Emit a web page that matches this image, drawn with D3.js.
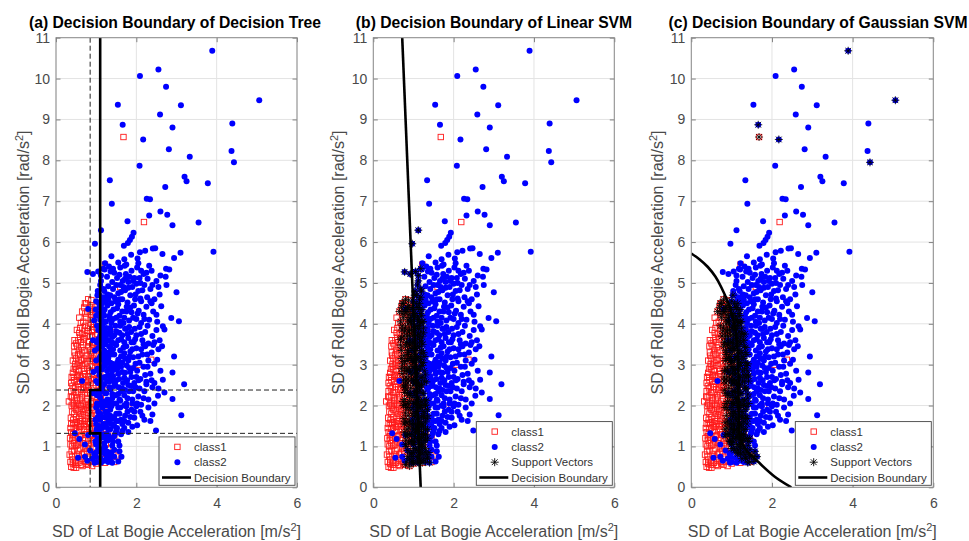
<!DOCTYPE html>
<html>
<head>
<meta charset="utf-8">
<script src="https://cdn.jsdelivr.net/npm/d3@7"></script>
<style>
  body { margin: 0; background: #fff; }
  svg { font-family: "Liberation Sans", Arial, sans-serif; }
</style>
</head>
<body>
<svg id="chart" width="969" height="541"></svg>
<script>
// ---- data ----
var panelTitles = ["(a) Decision Boundary of Decision Tree", "(b) Decision Boundary of Linear SVM", "(c) Decision Boundary of Gaussian SVM"];
var xTickVals = [0, 2, 4, 6];
var yTickVals = [0, 1, 2, 3, 4, 5, 6, 7, 8, 9, 10, 11];
var legendNames = ["class1", "class2", "Support Vectors", "Decision Boundary"];

// class1 (red squares)
var class1 = [
  [1.68,8.57],[2.19,6.49],[1.22,5.45],[2.37,3.12],[1.8,1.95],[2.05,3.0],[1.5,2.7],[1.4,3.8],[1.6,4.9],[1.45,1.2],
  [1.3,1.3],[1.55,0.75],[1.39,1.19],[1.18,1.16],
  [0.8,4.6],[0.72,4.5],[0.85,4.4],[0.78,4.3],[0.68,4.05],[0.75,4.15],[0.88,4.22],[0.62,4.02],[0.92,4.05],
  [0.6,3.9],[0.66,3.75],[0.72,3.95],[0.55,3.6],[0.62,3.55],[0.7,3.65],[0.78,3.82],[0.85,3.7],[0.5,3.52],[0.9,3.85],[0.58,3.78],[0.82,3.55],
  [0.42,3.1],[0.46,3.3],[0.5,3.15],[0.53,3.45],[0.57,3.05],[0.6,3.25],[0.63,3.42],[0.66,3.12],[0.7,3.35],[0.73,3.02],
  [0.76,3.22],[0.8,3.45],[0.84,3.1],[0.88,3.3],[0.92,3.15],[0.48,3.02],[0.55,3.25],[0.68,3.48],[0.78,3.08],[0.45,3.45],
  [0.38,2.55],[0.42,2.8],[0.45,2.62],[0.48,2.95],[0.52,2.7],[0.55,2.52],[0.58,2.85],[0.62,2.68],[0.65,2.98],[0.68,2.55],
  [0.72,2.78],[0.75,2.62],[0.78,2.92],[0.82,2.7],[0.86,2.55],[0.9,2.85],[0.44,2.7],[0.6,2.58],[0.7,2.9],[0.8,2.5],[0.5,2.88],[0.95,2.65],
  [0.32,2.1],[0.38,2.35],[0.42,2.05],[0.45,2.25],[0.48,2.45],[0.52,2.12],[0.55,2.32],[0.58,2.02],[0.62,2.4],[0.65,2.2],
  [0.68,2.05],[0.72,2.3],[0.75,2.48],[0.78,2.15],[0.82,2.38],[0.86,2.05],[0.9,2.25],[0.44,2.42],[0.6,2.15],[0.7,2.45],[0.4,2.2],[0.8,2.02],
  [0.38,1.55],[0.4,1.85],[0.43,1.65],[0.46,1.95],[0.5,1.72],[0.53,1.52],[0.56,1.88],[0.6,1.62],[0.63,1.98],[0.66,1.75],
  [0.7,1.55],[0.73,1.9],[0.76,1.68],[0.8,1.82],[0.84,1.58],[0.88,1.95],[0.45,1.8],[0.58,1.7],[0.68,1.85],[0.52,1.6],
  [0.36,1.05],[0.38,1.35],[0.41,1.15],[0.44,1.45],[0.47,1.22],[0.5,1.02],[0.53,1.38],[0.56,1.18],[0.6,1.48],[0.63,1.28],
  [0.66,1.08],[0.7,1.4],[0.73,1.2],[0.77,1.35],[0.8,1.05],[0.84,1.25],[0.88,1.45],[0.95,1.15],[1.05,1.35],[1.12,1.42],
  [0.38,0.5],[0.4,0.75],[0.42,0.58],[0.45,0.9],[0.48,0.65],[0.5,0.48],[0.53,0.8],[0.56,0.6],[0.6,0.95],[0.63,0.7],
  [0.66,0.52],[0.7,0.85],[0.73,0.62],[0.76,0.95],[0.8,0.55],[0.85,0.75],[0.9,0.52],[1.0,0.58],[1.1,0.62],[1.22,0.6],
  [1.35,0.72],[1.45,0.62],[1.5,0.78],[0.44,0.48],
  [0.78,0.7],[0.82,1.0],[0.86,1.3],[0.9,1.62],[0.93,1.9],[0.96,2.2],[0.99,2.5],[1.02,2.8],[0.97,3.1],[0.94,3.4],
  [0.9,3.7],[0.87,4.0],[0.84,4.3],[0.92,0.85],[0.95,1.12],[0.98,1.45],[1.02,1.75],[1.05,2.05],[1.08,2.35],[1.06,2.65],
  [1.04,2.95],[1.0,3.25],[0.98,3.55],[0.95,3.85],[0.92,4.15],[0.88,4.45],[0.8,1.6],[0.83,1.95],[0.85,2.3],[0.87,2.65],
  [0.89,2.95],[0.86,3.25],[0.83,3.55],[0.8,3.9],[1.08,0.75],[1.12,1.05],[1.15,1.6],[1.18,1.95],[1.12,2.15],[1.1,2.9],
  [1.07,3.35],[1.03,3.75],[0.99,4.25],[1.2,2.5],[1.25,1.3],[1.3,0.95],
  [0.74,0.58],[0.77,0.88],[0.81,1.15],[0.84,1.42],[0.87,1.75],[0.9,2.1],[0.93,2.42],[0.96,2.75],[0.99,3.05],[1.02,3.4],
  [0.98,3.72],[0.95,4.0],[0.91,4.35],[0.88,4.58],[0.96,0.65],[0.99,0.95],[1.02,1.25],[1.05,1.55],[1.08,1.85],[1.11,2.18],
  [1.14,2.48],[1.1,2.78],[1.07,3.08],[1.04,3.52],[1.01,3.9],[0.97,4.4],[0.72,1.62],[0.75,2.0],[0.78,2.32],[0.81,2.6],
  [0.84,2.85],[0.87,3.15],[0.9,3.5],[0.76,3.7],[0.73,4.25],[0.83,0.62],[0.88,1.08],[0.91,1.3],[0.94,1.55],[0.97,1.8],
  [1.0,2.08],[1.03,2.35],[1.06,2.55],[1.01,2.62],[0.98,2.95],[0.95,3.2],[0.92,3.48],[0.89,3.8],[0.86,4.1],[1.16,0.82],
  [1.2,1.38],[1.24,1.05],
  [0.36,0.62],[0.39,0.88],[0.41,1.25],[0.43,1.58],[0.46,2.0],[0.49,2.32],[0.52,2.6],[0.54,2.98],[0.57,3.35],[0.6,3.68],
  [0.63,0.55],[0.65,0.8],[0.67,1.15],[0.69,1.5],[0.71,1.78],[0.74,2.1],[0.4,1.0],[0.43,1.3],[0.47,1.55],[0.5,1.9],
  [0.53,2.2],[0.56,2.45],[0.59,2.75],[0.62,3.1],[0.65,3.3],[0.68,3.62],[0.71,3.85],[0.37,1.7],[0.39,2.0],[0.41,2.48],
  [0.44,2.9],[0.47,3.22],[0.5,0.6],[0.55,1.05],[0.58,1.35],[0.61,1.8],[0.64,2.25],[0.67,2.7],[0.7,3.15],[0.48,0.55],
  [0.34,0.8],[0.35,1.2],[0.36,1.45],[0.37,2.22],[0.39,2.7],[0.42,0.68],[0.45,1.08],[0.49,1.45],[0.51,2.05],[0.54,2.75],
  [0.57,0.75],[0.59,1.12],[0.62,1.55],[0.64,1.92],[0.67,2.38],[0.69,2.85],[0.72,0.95],[0.74,1.3],[0.77,1.55],[0.79,2.45],
  [0.82,2.85],[0.85,3.35],[0.46,3.6],[0.52,3.85],[0.58,4.15],[0.65,4.3],[0.7,4.4],[0.75,4.5],[0.55,0.9],[0.6,1.25]
];

// class2 (blue dots)
var class2 = [
  [3.89,10.68],[5.06,9.47],[2.55,10.22],[2.09,10.06],[2.74,9.8],[1.54,9.36],[3.11,9.35],[2.59,9.12],[1.66,8.87],[4.39,8.9],
  [2.9,8.8],[2.17,8.51],[2.81,8.27],[4.37,8.23],[3.33,8.09],[4.43,7.95],[2.08,7.87],[3.2,7.6],[3.25,7.49],[3.78,7.44],
  [1.34,7.51],[2.72,7.35],[2.26,7.06],[2.34,7.05],[1.39,6.94],[2.6,6.75],[2.77,6.67],[2.32,6.65],[1.78,6.51],[3.55,6.48],
  [2.9,6.41],[1.12,6.29],[1.93,6.23],[1.89,6.13],[1.84,6.05],[1.79,5.98],[1.69,5.91],[0.97,5.96],[3.92,5.76],[2.22,5.79],
  [2.09,5.75],[2.41,5.84],[2.47,5.85],[3.1,5.74],[2.65,5.71],[1.38,5.65],[1.87,5.69],[1.7,5.58],[2.94,5.61],[2.03,5.6],
  [2.05,5.48],[1.71,5.42],[2.74,5.35],[1.21,5.33],
  [1.05,5.28],[1.12,5.05],[1.18,5.35],[1.27,5.15],[1.32,5.4],[1.4,5.02],[1.45,5.25],[1.52,5.12],[1.6,5.38],[1.66,5.05],
  [1.74,5.22],[1.8,5.02],[1.88,5.3],[1.95,5.12],[2.02,5.38],[2.1,5.0],[2.18,5.22],[2.28,5.1],[2.38,5.3],[2.5,5.05],
  [2.6,5.18],[2.82,5.33],[2.73,5.15],[1.22,5.48],[1.55,5.5],[0.78,5.27],[0.92,5.22],
  [1.1,4.95],[1.15,4.6],[1.2,4.8],[1.25,4.55],[1.3,4.92],[1.35,4.7],[1.42,4.85],[1.48,4.55],[1.55,4.75],[1.6,4.95],
  [1.65,4.6],[1.72,4.82],[1.78,4.52],[1.85,4.7],[1.9,4.9],[1.97,4.6],[2.05,4.8],[2.12,4.55],[2.2,4.95],[2.27,4.65],
  [2.35,4.85],[2.45,4.6],[2.55,4.9],[2.62,4.43],[3.0,4.77],[2.75,4.95],[1.08,4.7],[1.38,4.5],[2.0,4.98],
  [1.1,4.1],[1.12,4.4],[1.18,4.25],[1.22,4.05],[1.28,4.45],[1.33,4.2],[1.38,4.02],[1.43,4.35],[1.5,4.15],[1.55,4.48],
  [1.6,4.05],[1.65,4.3],[1.7,4.15],[1.76,4.42],[1.82,4.08],[1.88,4.28],[1.94,4.45],[2.0,4.12],[2.06,4.32],[2.12,4.02],
  [2.18,4.22],[2.25,4.42],[2.32,4.1],[2.42,4.3],[2.52,4.05],[2.87,4.14],[3.06,4.06],[0.8,4.36],[0.95,4.08],[1.0,4.2],
  [1.02,3.55],[1.05,3.85],[1.1,3.7],[1.15,3.95],[1.2,3.55],[1.25,3.78],[1.3,3.6],[1.35,3.9],[1.4,3.68],[1.45,3.52],
  [1.5,3.82],[1.55,3.6],[1.6,3.95],[1.65,3.72],[1.7,3.55],[1.75,3.88],[1.8,3.65],[1.87,3.8],[1.93,3.55],[2.0,3.72],
  [2.08,3.92],[2.15,3.6],[2.22,3.8],[2.3,3.52],[2.4,3.7],[2.66,3.94],[2.7,3.86],[2.64,3.45],[2.5,3.85],[0.92,3.6],
  [1.0,3.1],[1.05,3.4],[1.1,3.2],[1.15,3.45],[1.2,3.05],[1.25,3.3],[1.3,3.15],[1.35,3.42],[1.4,3.02],[1.45,3.25],
  [1.5,3.48],[1.55,3.12],[1.6,3.35],[1.65,3.05],[1.7,3.28],[1.75,3.45],[1.8,3.1],[1.85,3.32],[1.92,3.18],[2.0,3.4],
  [2.08,3.05],[2.15,3.25],[2.22,3.45],[2.3,3.1],[2.38,3.3],[2.45,3.02],[2.94,3.2],[2.55,3.38],[0.97,3.35],
  [1.0,2.6],[1.03,2.9],[1.08,2.75],[1.12,2.55],[1.17,2.95],[1.22,2.7],[1.27,2.85],[1.32,2.58],[1.37,2.98],[1.42,2.72],
  [1.47,2.52],[1.52,2.88],[1.57,2.65],[1.62,2.95],[1.67,2.55],[1.72,2.8],[1.77,2.62],[1.82,2.92],[1.88,2.7],[1.95,2.55],
  [2.02,2.85],[2.1,2.65],[2.18,2.95],[2.25,2.58],[2.35,2.78],[2.45,2.55],[2.9,2.81],[3.19,2.52],[2.66,2.63],[0.93,2.82],[0.65,2.6],
  [1.02,2.05],[1.06,2.35],[1.1,2.2],[1.15,2.45],[1.2,2.1],[1.25,2.3],[1.3,2.02],[1.35,2.4],[1.4,2.18],[1.45,2.48],
  [1.5,2.05],[1.55,2.28],[1.6,2.12],[1.65,2.42],[1.7,2.25],[1.75,2.05],[1.82,2.35],[1.9,2.15],[1.98,2.45],[2.05,2.22],
  [2.12,2.02],[2.2,2.35],[2.3,2.15],[2.4,2.45],[2.54,2.24],[2.7,2.32],[2.9,2.16],[2.45,2.05],[0.93,2.3],
  [1.0,1.55],[1.05,1.85],[1.1,1.65],[1.15,1.95],[1.2,1.52],[1.25,1.75],[1.3,1.6],[1.35,1.9],[1.4,1.68],[1.45,1.5],
  [1.5,1.8],[1.55,1.62],[1.6,1.95],[1.65,1.55],[1.72,1.75],[1.8,1.58],[1.88,1.9],[1.95,1.7],[2.02,1.52],[2.1,1.85],
  [2.2,1.65],[2.3,1.95],[2.4,1.78],[3.12,1.76],[2.49,1.39],[1.75,1.98],[2.0,1.98],
  [0.47,1.32],[0.58,1.18],[0.72,1.05],[0.8,1.28],
  [1.0,1.05],[1.05,1.35],[1.1,1.2],[1.15,1.45],[1.2,1.08],[1.25,1.3],[1.3,1.15],[1.35,1.42],[1.4,1.02],[1.45,1.25],
  [1.5,1.38],[1.55,1.12],[1.62,1.3],[1.7,1.45],[1.8,1.35],[1.9,1.48],[1.25,1.48],
  [0.72,0.75],[0.78,0.65],[0.85,0.9],[0.9,0.7],[0.95,0.82],[1.0,0.62],[1.05,0.95],[1.1,0.72],[1.15,0.85],[1.2,0.65],
  [1.28,0.87],[1.35,0.7],[1.45,0.92],[1.55,0.63],[1.63,0.75],[0.55,0.72],[1.22,0.98],[1.4,0.6],
  [0.98,0.75],[1.03,1.1],[1.07,1.4],[1.12,1.7],[1.17,2.0],[1.22,2.3],[1.27,2.6],[1.32,2.9],[1.28,3.2],[1.23,3.5],
  [1.18,3.8],[1.13,4.1],[1.08,4.4],[1.03,4.7],[1.08,0.9],[1.13,1.25],[1.18,1.55],[1.23,1.85],[1.28,2.15],[1.33,2.45],
  [1.3,2.75],[1.25,3.05],[1.2,3.35],[1.15,3.65],[1.1,3.95],[1.05,4.25],[1.0,4.55],[0.96,1.3],[0.98,1.65],[1.0,1.95],
  [1.02,2.25],[1.04,2.55],[1.06,2.85],[1.08,3.15],[1.1,3.45],[1.12,3.75],[1.14,4.05],[1.16,4.35],[1.18,4.65],[1.2,1.0],
  [1.26,1.7],[1.3,2.0],[1.34,3.3],[1.3,3.6],[1.25,3.9],[1.2,4.2],[1.15,4.5],[1.35,1.2],[1.33,0.8],[1.25,0.7],
  [0.96,0.6],[1.0,0.85],[1.04,1.2],[1.07,1.5],[1.1,1.8],[1.13,2.08],[1.16,2.38],[1.19,2.68],[1.22,2.98],[1.19,3.28],
  [1.16,3.58],[1.13,3.88],[1.1,4.18],[1.07,4.5],[1.04,4.8],[1.12,0.6],[1.16,0.92],[1.2,1.22],[1.24,1.55],[1.28,1.85],
  [1.32,2.12],[1.36,2.42],[1.38,2.75],[1.35,3.05],[1.32,3.45],[1.28,3.75],[1.24,4.05],[1.21,4.35],[1.18,4.85],[0.98,1.12],
  [1.01,1.42],[1.04,1.72],[1.06,2.02],[1.09,2.32],[1.11,2.62],[1.14,2.88],[1.17,3.18],[1.05,3.62],[1.02,3.95],[0.99,4.35],
  [1.27,1.15],[1.3,1.42],[1.34,1.68],[1.38,1.98],[1.4,2.28],[1.42,2.6],[1.39,3.55],[1.36,3.82],[1.33,4.12],[1.3,4.6],
  [1.38,0.85],[1.3,0.62],
  [1.42,5.35],[1.58,5.2],[1.75,5.45],[1.92,5.05],[2.12,5.3],[2.32,5.42],[1.28,4.72],[1.45,4.65],[1.62,4.78],[1.8,4.88],
  [1.98,4.72],[2.15,4.82],[2.35,4.55],[1.36,4.28],[1.52,4.38],[1.68,4.02],[1.85,4.4],[2.03,4.25],[2.2,4.12],[2.38,4.5],
  [1.33,3.75],[1.48,3.95],[1.62,3.62],[1.78,3.75],[1.96,3.88],[2.12,3.75],[2.28,3.95],[2.45,3.55],[1.38,3.25],[1.52,3.05],
  [1.68,3.42],[1.83,3.2],[1.98,3.02],[2.12,3.38],[2.27,3.25],[2.42,3.48],[1.35,2.7],[1.5,2.62],[1.65,2.82],[1.8,2.5],
  [1.92,2.92],[2.06,2.62],[2.22,2.75],[2.38,2.62],[1.48,2.25],[1.62,2.35],[1.78,2.18],[1.92,2.35],[2.08,2.42],[2.25,2.52],
  [1.45,1.72],[1.58,1.8],[1.7,1.62],[1.85,1.72],[2.15,1.75],[1.38,1.55],[1.52,1.45],[1.65,1.38],[1.42,1.12],[1.58,1.02],
  [1.72,5.1],[2.25,5.25],[2.4,4.95],[2.58,4.72],[2.5,4.22],[2.58,3.6],[2.52,3.12],[2.6,2.85],[2.55,2.42],[2.35,1.62],
  [1.58,4.2],[1.72,3.88],[1.88,3.55],[1.62,3.2],[1.76,2.98],[1.56,2.45],[1.7,2.0],[1.9,2.05],[1.55,1.95],[1.45,2.95],
  [1.12,5.18],[1.36,5.28],[1.5,4.95],[1.68,4.9],[1.83,5.15],[2.08,5.12],[1.18,4.02],[1.42,4.12],[1.58,4.6],[1.75,4.3],
  [1.92,4.15],[2.1,4.62],[1.22,3.68],[1.45,3.72],[1.58,3.78],[1.82,3.92],[1.97,3.62],[2.18,3.5],[1.18,3.12],[1.42,3.38],
  [1.58,2.98],[1.72,3.15],[1.9,3.38],[2.05,3.2],[1.2,2.52],[1.4,2.85],[1.55,2.78],[1.7,2.68],[1.85,2.82],[2.0,2.7],
  [1.22,2.0],[1.42,2.05],[1.58,2.15],[1.72,2.38],[1.88,2.48],[2.02,2.05],[1.2,1.72],[1.35,1.75],[1.5,1.62],[1.62,1.65],
  [1.78,1.85],[1.95,1.85],[1.15,1.3],[1.3,1.28],[1.48,1.32],[1.22,0.82],[1.45,0.75],[1.58,0.88],[2.18,2.18],[2.28,2.95]
];

// boundaries
var treeBoundX = [1.1, 1.1, 0.85, 0.85, 1.1, 1.1];
var treeBoundY = [11, 2.38, 2.38, 1.32, 1.32, 0];
var treeSplitX = [0.85];
var treeSplitY = [2.38, 1.32];
var linearBoundX = [0.72, 1.18];
var linearBoundY = [11, 0];
var gaussBoundX = [0, 0.2, 0.41, 0.6, 0.74, 0.95, 1.08, 1.14, 1.17, 1.17, 1.18, 1.2, 1.36, 1.65, 2.07, 2.48];
var gaussBoundY = [5.72, 5.58, 5.39, 5.15, 4.9, 4.42, 3.93, 3.44, 2.8, 2.2, 1.6, 1.24, 0.91, 0.63, 0.26, 0];
// far-off support vectors of the gaussian model
var gaussExtraSV = [[3.89,10.68],[5.06,9.47],[4.43,7.95],[1.66,8.87],[1.68,8.57],[2.17,8.51]];
// support vectors = points lying within this band (x distance) round the boundary
var svBand = [-0.36, 0.25];

// ---- layout ----
var svg = d3.select("#chart");
var plotTop = 37.7, plotBottom = 487.3;
var panels = [
  {left: 56, right: 297, titleX: 175, ylabX: 28.5, kind: "tree"},
  {left: 373.3, right: 614.3, titleX: 494, ylabX: 344, kind: "linear"},
  {left: 691.3, right: 933.3, titleX: 818, ylabX: 663, kind: "gauss"}
];
var star = "M-4,0H4M0,-4V4M-2.9,-2.9L2.9,2.9M-2.9,2.9L2.9,-2.9";
var allPts = class1.concat(class2);
var dotR = 3.0, sq = 5.4;

function drawMarker(g, kind, cx, cy) {
  if (kind == "class1") {
    g.append("rect").attr("x", cx - sq / 2).attr("y", cy - sq / 2).attr("width", sq).attr("height", sq)
      .attr("fill", "none").attr("stroke", "#ff1a1a").attr("stroke-width", 0.9);
  } else if (kind == "class2") {
    g.append("circle").attr("cx", cx).attr("cy", cy).attr("r", dotR).attr("fill", "#0000ff");
  } else if (kind == "sv") {
    g.append("path").attr("d", star).attr("transform", "translate(" + cx + "," + cy + ")")
      .attr("fill", "none").attr("stroke", "#000").attr("stroke-width", 0.9);
  }
}

panels.forEach(function(p, i) {
  var x = d3.scaleLinear().domain([0, 6]).range([p.left, p.right]);
  var y = d3.scaleLinear().domain([0, 11]).range([plotBottom, plotTop]);
  var g = svg.append("g");
  var clipId = "clip" + i;
  g.append("clipPath").attr("id", clipId).append("rect")
    .attr("x", p.left).attr("y", plotTop).attr("width", p.right - p.left).attr("height", plotBottom - plotTop);

  // grid
  g.selectAll(".gx").data(xTickVals).enter().append("line")
    .attr("x1", function(d) { return x(d); }).attr("x2", function(d) { return x(d); })
    .attr("y1", plotTop).attr("y2", plotBottom).attr("stroke", "#e3e3e3").attr("stroke-width", 1);
  g.selectAll(".gy").data(yTickVals).enter().append("line")
    .attr("y1", function(d) { return y(d); }).attr("y2", function(d) { return y(d); })
    .attr("x1", p.left).attr("x2", p.right).attr("stroke", "#e3e3e3").attr("stroke-width", 1);

  var pg = g.append("g").attr("clip-path", "url(#" + clipId + ")");

  // points
  pg.selectAll("rect.c1").data(class1).enter().append("rect").attr("class", "c1")
    .attr("x", function(d) { return x(d[0]) - sq / 2; }).attr("y", function(d) { return y(d[1]) - sq / 2; })
    .attr("width", sq).attr("height", sq).attr("fill", "none").attr("stroke", "#ff1a1a").attr("stroke-width", 0.9);
  pg.selectAll("circle.c2").data(class2).enter().append("circle").attr("class", "c2")
    .attr("cx", function(d) { return x(d[0]); }).attr("cy", function(d) { return y(d[1]); })
    .attr("r", dotR).attr("fill", "#0000ff");

  // support vectors
  var sv = [];
  if (p.kind == "linear") {
    var lb = d3.scaleLinear().domain(linearBoundY).range(linearBoundX);
    sv = allPts.filter(function(d) { var dx = d[0] - lb(d[1]); return dx >= svBand[0] && dx <= svBand[1]; });
  } else if (p.kind == "gauss") {
    var gb = d3.scaleLinear().domain(gaussBoundY).range(gaussBoundX).clamp(true);
    sv = allPts.filter(function(d) {
      if (d[1] > gaussBoundY[0]) return false;
      var dx = d[0] - gb(d[1]); return dx >= svBand[0] && dx <= svBand[1];
    }).concat(gaussExtraSV);
  }
  pg.selectAll("path.sv").data(sv).enter().append("path").attr("class", "sv")
    .attr("d", star).attr("transform", function(d) { return "translate(" + x(d[0]) + "," + y(d[1]) + ")"; })
    .attr("fill", "none").attr("stroke", "#000").attr("stroke-width", 0.9).attr("stroke-opacity", 0.9);

  // boundary lines
  var line = d3.line().x(function(d) { return x(d[0]); }).y(function(d) { return y(d[1]); });
  if (p.kind == "tree") {
    treeSplitX.forEach(function(v) {
      pg.append("line").attr("x1", x(v)).attr("x2", x(v)).attr("y1", plotTop).attr("y2", plotBottom)
        .attr("stroke", "#222").attr("stroke-width", 1).attr("stroke-dasharray", "5,3");
    });
    treeSplitY.forEach(function(v) {
      pg.append("line").attr("y1", y(v)).attr("y2", y(v)).attr("x1", p.left).attr("x2", p.right)
        .attr("stroke", "#222").attr("stroke-width", 1).attr("stroke-dasharray", "5,3");
    });
    pg.append("path").datum(d3.zip(treeBoundX, treeBoundY)).attr("d", line)
      .attr("fill", "none").attr("stroke", "#000").attr("stroke-width", 2.6);
  } else if (p.kind == "linear") {
    pg.append("path").datum(d3.zip(linearBoundX, linearBoundY)).attr("d", line)
      .attr("fill", "none").attr("stroke", "#000").attr("stroke-width", 2.6);
  } else {
    pg.append("path").datum(d3.zip(gaussBoundX, gaussBoundY)).attr("d", line.curve(d3.curveCatmullRom))
      .attr("fill", "none").attr("stroke", "#000").attr("stroke-width", 2.6);
  }

  // axes (ticks inside, mirrored)
  var fmt = d3.format("d");
  var ax = g.append("g").attr("transform", "translate(0," + plotBottom + ")")
    .call(d3.axisBottom(x).tickValues(xTickVals).tickFormat(fmt).tickSizeInner(-4.5).tickSizeOuter(0).tickPadding(10.8));
  var axT = g.append("g").attr("transform", "translate(0," + plotTop + ")")
    .call(d3.axisTop(x).tickValues(xTickVals).tickSizeInner(-4.5).tickSizeOuter(0).tickFormat(""));
  var ay = g.append("g").attr("transform", "translate(" + p.left + ",0)")
    .call(d3.axisLeft(y).tickValues(yTickVals).tickFormat(fmt).tickSizeInner(-4.5).tickSizeOuter(0).tickPadding(6));
  var ayR = g.append("g").attr("transform", "translate(" + p.right + ",0)")
    .call(d3.axisRight(y).tickValues(yTickVals).tickSizeInner(-4.5).tickSizeOuter(0).tickFormat(""));
  [ax, axT, ay, ayR].forEach(function(a) {
    a.select(".domain").remove();
    a.selectAll(".tick line").attr("stroke", "#666").attr("stroke-width", 0.8);
    a.selectAll(".tick text").attr("fill", "#4a4a4a").style("font-size", "14px")
      .style("font-family", "'Liberation Sans', Arial, sans-serif");
  });
  g.append("rect").attr("x", p.left).attr("y", plotTop).attr("width", p.right - p.left).attr("height", plotBottom - plotTop)
    .attr("fill", "none").attr("stroke", "#8c8c8c").attr("stroke-width", 1);

  // titles and axis labels
  g.append("text").attr("x", p.titleX).attr("y", 28.3).attr("text-anchor", "middle")
    .style("font-size", "15.7px").style("font-weight", "bold").attr("fill", "#000").text(panelTitles[i]);
  var xl = g.append("text").attr("x", (p.left + p.right) / 2).attr("y", 537).attr("text-anchor", "middle")
    .style("font-size", "16px").attr("fill", "#4a4a4a");
  xl.append("tspan").text("SD of Lat Bogie Acceleration [m/s");
  xl.append("tspan").attr("dy", -6).style("font-size", "11px").text("2");
  xl.append("tspan").attr("dy", 6).text("]");
  var yl = g.append("text").attr("transform", "translate(" + p.ylabX + "," + ((plotTop + plotBottom) / 2) + ") rotate(-90)")
    .attr("text-anchor", "middle").style("font-size", "16px").attr("fill", "#4a4a4a");
  yl.append("tspan").text("SD of Roll Bogie Acceleration [rad/s");
  yl.append("tspan").attr("dy", -6).style("font-size", "11px").text("2");
  yl.append("tspan").attr("dy", 6).text("]");

  // legend
  var items = p.kind == "tree" ? ["class1", "class2", "line"] : ["class1", "class2", "sv", "line"];
  var names = p.kind == "tree" ? [legendNames[0], legendNames[1], legendNames[3]] : legendNames;
  var lw = 136, lh = items.length * 15.3 + 2.5;
  var lx = p.right - 2 - lw, ly = plotBottom - 2 - lh;
  var lg = g.append("g");
  lg.append("rect").attr("x", lx).attr("y", ly).attr("width", lw).attr("height", lh)
    .attr("fill", "#fff").attr("stroke", "#444").attr("stroke-width", 0.9);
  items.forEach(function(k, j) {
    var yy = ly + 10 + j * 15.3;
    if (k == "line") {
      lg.append("line").attr("x1", lx + 3).attr("x2", lx + 32).attr("y1", yy).attr("y2", yy)
        .attr("stroke", "#000").attr("stroke-width", 2.6);
    } else {
      drawMarker(lg, k, lx + 18.4, yy);
    }
    lg.append("text").attr("x", lx + 35).attr("y", yy).attr("dy", "0.35em")
      .style("font-size", "11.5px").attr("fill", "#333").text(names[j]);
  });
});
</script>
</body>
</html>
